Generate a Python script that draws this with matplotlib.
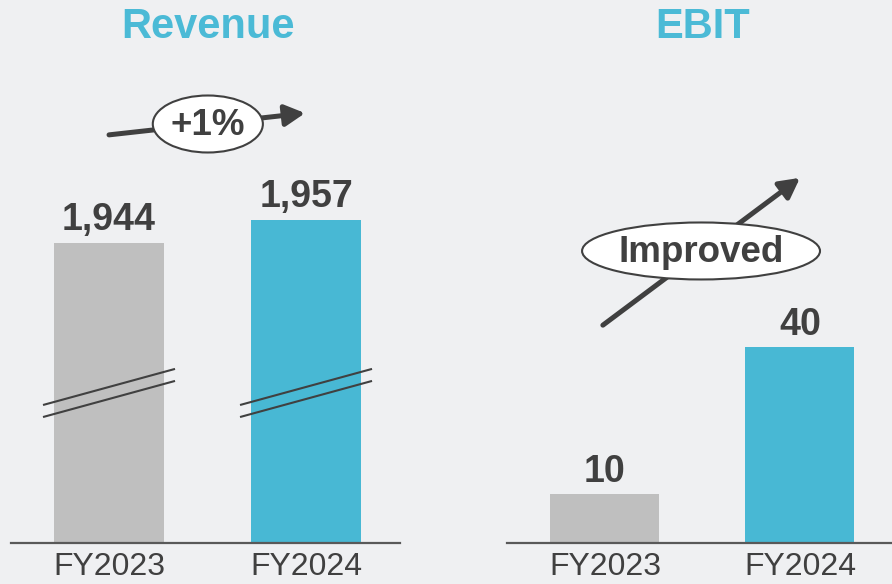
import matplotlib.pyplot as plt
from matplotlib.patches import Ellipse

plt.rcParams['font.family'] = ['Liberation Sans', 'DejaVu Sans']

# 数据
years = ['FY2023', 'FY2024']
revenue = [1944, 1957]
ebit = [10, 40]
revenue_labels = ['1,944', '1,957']
ebit_labels = ['10', '40']
revenue_note = '+1%'
ebit_note = 'Improved'

bg = '#eff0f2'
grey = '#bfbfbf'
blue = '#48b8d4'
title_c = '#4bbad6'
dark = '#404040'
colors = [grey, blue]

fig = plt.figure(figsize=(8.92, 5.84), dpi=100, facecolor=bg)
ax1 = fig.add_axes([11 / 892, 41 / 584, 389 / 892, 483 / 584])
ax2 = fig.add_axes([507 / 892, 41 / 584, 385 / 892, 483 / 584])

x = [0, 1]

# 截断的纵轴（Revenue）
rev_base = 1774.4
ax1.bar(x, [v - rev_base for v in revenue], bottom=rev_base, width=0.558, color=colors)
ax1.set_xlim(-0.4975, 1.477)
ax1.set_ylim(rev_base, rev_base + 273)

ax2.bar(x, ebit, width=0.559, color=colors)
ax2.set_xlim(-0.5026, 1.472)
ax2.set_ylim(0, 98.6)

for ax in (ax1, ax2):
    ax.set_facecolor(bg)
    for s in ('top', 'right', 'left'):
        ax.spines[s].set_visible(False)
    ax.spines['bottom'].set_color('#595959')
    ax.spines['bottom'].set_linewidth(1.6)
    ax.set_yticks([])
    ax.set_xticks(x)
    ax.set_xticklabels(years, fontsize=23, color=dark)
    ax.tick_params(axis='x', length=0, pad=6.5)

# 数值标签
for xi, v, lab in zip(x, revenue, revenue_labels):
    ax1.annotate(lab, (xi, v), xytext=(0, 9.4), textcoords='offset points',
                 ha='center', va='baseline', fontsize=27, fontweight='bold', color=dark)
for xi, v, lab in zip(x, ebit, ebit_labels):
    ax2.annotate(lab, (xi, v), xytext=(0, 8.8), textcoords='offset points',
                 ha='center', va='baseline', fontsize=27, fontweight='bold', color=dark)

# 截断符号
for xi in x:
    for lo, hi in ((1852.4, 1872.8), (1845.6, 1866.0)):
        ax1.plot([xi - 0.335, xi + 0.335], [lo, hi], color=dark, lw=1.5, solid_capstyle='butt')

# 标题
ax1.text(0.5, 1.0455, 'Revenue', transform=ax1.get_xaxis_transform(), ha='center', va='baseline',
         fontsize=30, fontweight='bold', color=title_c)
ax2.text(0.5, 1.0455, 'EBIT', transform=ax2.get_xaxis_transform(), ha='center', va='baseline',
         fontsize=30, fontweight='bold', color=title_c)


def note(ax, start, end, center, w, h, text, base_y):
    ax.annotate('', xy=end, xytext=start, xycoords='axes fraction', textcoords='axes fraction',
                arrowprops=dict(arrowstyle='-|>,head_length=0.6,head_width=0.32', lw=3.6,
                                color=dark, mutation_scale=20, shrinkA=0, shrinkB=0), zorder=3)
    ax.add_patch(Ellipse(center, w, h, transform=ax.transAxes, facecolor='white',
                         edgecolor=dark, lw=1.5, zorder=4, clip_on=False))
    ax.text(center[0], base_y, text, transform=ax.transAxes, ha='center', va='baseline',
            fontsize=26.5, fontweight='bold', color=dark, zorder=5)


note(ax1, (0.252, 0.845), (0.756, 0.890), (0.506, 0.8675), 0.283, 0.118, revenue_note, 0.8447)
note(ax2, (0.249, 0.451), (0.761, 0.756), (0.504, 0.6046), 0.618, 0.118, ebit_note, 0.5818)

fig.savefig('out.png', dpi=100, facecolor=bg)
